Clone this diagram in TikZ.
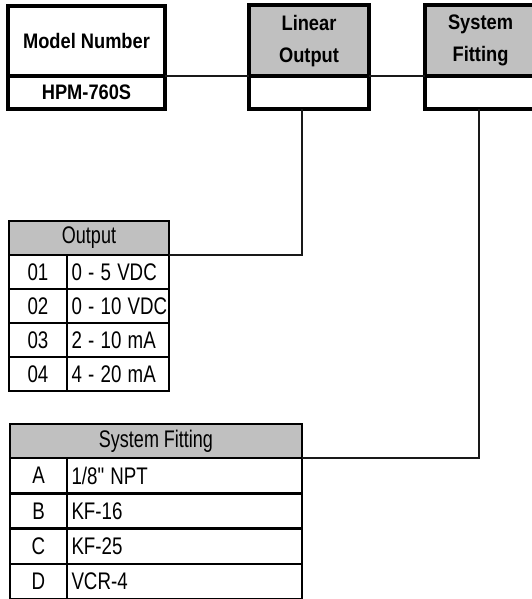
\documentclass[tikz,border=0pt]{standalone}
\usepackage{fontspec}
\setmainfont{Liberation Sans}
\usepackage{graphicx}
\newcommand{\bt}[1]{\scalebox{0.87}[1]{#1}}
\newcommand{\nt}[1]{\scalebox{0.78}[1]{#1}}
\newcommand{\hdt}[1]{\scalebox{0.75}[1]{#1}}
\newcommand{\straightquote}{{\addfontfeatures{Ligatures=TeXOff}"}}
\definecolor{hdrgray}{RGB}{192,192,192}
\tikzset{
  box/.style={draw=black, line width=4pt, inner sep=0pt, outer sep=0pt,
    font=\fontsize{21}{32}\selectfont\bfseries, align=center},
  hdr/.style={box, fill=hdrgray},
  cell/.style={draw=black, line width=2.5pt, inner sep=0pt, outer sep=0pt,
    font=\fontsize{24}{26}\selectfont},
  thdr/.style={cell, fill=hdrgray},
  valcell/.style={cell, align=left, text width=#1, inner xsep=0pt},
  conn/.style={line width=2pt, draw=black!90},
}
\begin{document}
\begin{tikzpicture}[x=1pt,y=-1pt]
\useasboundingbox (0,0) rectangle (532,599);
% top boxes
\node[box, minimum width=157, minimum height=70.5] (mhead) at (86.5,41.25) {\bt{Model Number}};
\node[box, minimum width=157, minimum height=32.5] (mval) at (86.5,92.75) {\bt{HPM-760S}};
\node[hdr, minimum width=120, minimum height=71.5] (lhead) at (309,40.75) {\bt{Linear}\\\bt{Output}};
\node[box, minimum width=120, minimum height=32.5] (lval) at (309,92.75) {};
\node[hdr, minimum width=111, minimum height=71.5] (shead) at (480.5,40.75) {\bt{System}\\\bt{Fitting}};
\node[box, minimum width=111, minimum height=32.5] (sval) at (480.5,92.75) {};
% output table
\node[thdr, minimum width=160, minimum height=34] (ohead) at (89,238) {\hdt{Output}};
\foreach \k/\c/\v [count=\i from 0] in {1/01/{0 - 5 VDC}, 2/02/{0 - 10 VDC}, 3/03/{2 - 10 mA}, 4/04/{4 - 20 mA}}{
  \node[cell, minimum width=58, minimum height=34] (oc\k) at (38,272+34*\i) {\nt{\c}};
  \node[valcell=99, minimum width=102, minimum height=34] (ov\k) at (118,272+34*\i) {\hspace*{3pt}\nt{\v}};
}
% system fitting table
\node[thdr, minimum width=292, minimum height=34] (fhead) at (156,441) {\hdt{System Fitting}};
\foreach \k/\c/\v [count=\i from 0] in {1/A/{1/8\straightquote\ NPT}, 2/B/{KF-16}, 3/C/{KF-25}, 4/D/{VCR-4}}{
  \node[cell, minimum width=57, minimum height=35.3] (fc\k) at (38.5,475.65+35.3*\i) {\nt{\c}};
  \node[valcell=232, minimum width=235, minimum height=35.3] (fv\k) at (184.5,475.65+35.3*\i) {\hspace*{3pt}\nt{\v}};
}
% connectors
\draw[conn] (mhead.south east) -- (lhead.south west);
\draw[conn] (lhead.south east) -- (shead.south west);
\coordinate (ldrop) at ([xshift=-7pt]lval.south);
\draw[conn] (ldrop) |- (ohead.south east);
\coordinate (sdrop) at ([xshift=-1.5pt]sval.south);
\draw[conn] (sdrop) |- (fhead.south east);
\end{tikzpicture}
\end{document}
